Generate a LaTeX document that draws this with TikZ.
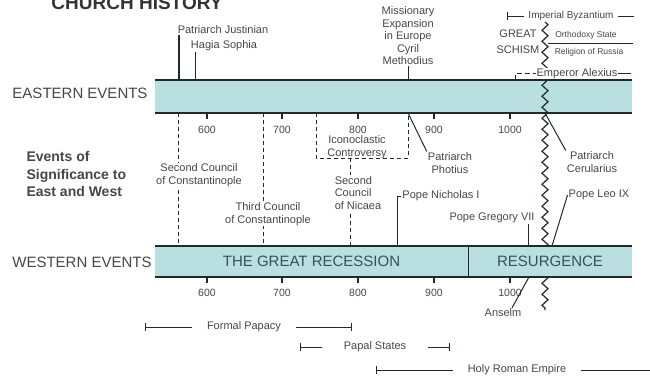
\documentclass[tikz,border=0pt]{standalone}
\usepackage{fontspec}
\setmainfont{Liberation Sans}
\usetikzlibrary{decorations.pathmorphing}
\definecolor{barfill}{RGB}{185,223,224}
\definecolor{bardark}{RGB}{32,42,42}
\definecolor{labelgray}{RGB}{70,70,70}
\definecolor{bartext}{RGB}{52,82,90}
\tikzstyle{barbox} = [rectangle, fill=barfill, inner sep=0pt, minimum height=31pt]
\tikzstyle{barrule} = [line width=2pt, draw=bardark]
\tikzstyle{headtext} = [font=\fontsize{15}{17}\selectfont, text=labelgray, inner sep=1pt]
\tikzstyle{bartitle} = [font=\fontsize{15}{17}\selectfont, text=bartext]
\tikzstyle{eventtext} = [font=\fontsize{11}{12.5}\selectfont, text=labelgray, align=center, inner sep=1pt]
\tikzstyle{smalltext} = [font=\fontsize{8.5}{10}\selectfont, text=labelgray, inner sep=1pt]
\tikzstyle{spantext} = [font=\fontsize{11}{12.5}\selectfont, text=labelgray, inner ysep=1pt, inner xsep=15pt]
\tikzstyle{yeartext} = [font=\fontsize{10.5}{12}\selectfont, text=labelgray, inner sep=1pt]
\tikzstyle{yeartick} = [line width=1.5pt, draw=bardark]
\tikzstyle{eventline} = [line width=1pt, draw=bardark]
\tikzstyle{councilline} = [line width=1pt, draw=bardark, dash pattern=on 4pt off 3pt]
\tikzstyle{spanline} = [line width=0.8pt, draw=bardark]
\tikzstyle{schismline} = [line width=1.2pt, draw=bardark, decorate, decoration={zigzag, segment length=11pt, amplitude=3pt}]

\begin{document}
\begin{tikzpicture}[x=1pt, y=-1pt]
  \useasboundingbox (0,0) rectangle (650,381);
  \node (title) [anchor=base, font=\fontsize{19}{21}\selectfont\bfseries, text=black!80] at (137,9) {CHURCH HISTORY};
  \node (eastlabel) [headtext] at (80,93) {EASTERN EVENTS};
  \node (westlabel) [headtext] at (82,262) {WESTERN EVENTS};
  \node (significance) [anchor=west, font=\fontsize{14}{17.5}\selectfont\bfseries, text=labelgray, align=left] at (23,174) {Events of\\Significance to\\East and West};

  \node (eastbar) [barbox, minimum width=477pt, minimum height=33pt] at (393.5,96.5) {};
  \coordinate (schtop) at (545,22);
  \coordinate (schbot) at (545,310);
  \draw [schismline] (schtop) -- (schbot);
  \node (recession) [barbox, bartitle, minimum width=313pt] at (311.5,261.5) {THE GREAT RECESSION};
  \node (resurgence) [barbox, bartitle, minimum width=164pt] at (550,261.5) {RESURGENCE};
  \draw [barrule] (eastbar.north west) -- (eastbar.north east);
  \draw [barrule] (eastbar.south west) -- (eastbar.south east);
  \draw [barrule] (recession.north west) -- (resurgence.north east);
  \draw [barrule] (recession.south west) -- (resurgence.south east);
  \draw [barrule, line width=1.2pt] (recession.north east) -- (recession.south east);

  \foreach \yr/\xx in {600/207,700/282,800/358,900/434,1000/510} {
    \coordinate (e\yr) at (\xx,113);
    \coordinate (w\yr) at (\xx,277);
    \draw [yeartick] (e\yr) -- ++(0,6);
    \draw [yeartick] (w\yr) -- ++(0,6);
    \node (ey\yr) [yeartext] at (\xx,129.5) {\yr};
    \node (wy\yr) [yeartext] at (\xx,292.5) {\yr};
  }

  \node (justinian) [eventtext] at (223,30) {Patriarch Justinian};
  \node (hagia) [eventtext] at (224,46) {Hagia Sophia};
  \node (missions) [eventtext, anchor=south] at (408,66) {Missionary\\Expansion\\in Europe\\Cyril\\Methodius};
  \coordinate (e527) at (179,80);
  \coordinate (e537) at (195,80);
  \coordinate (e863) at (408,80);
  \draw [eventline, line width=1.5pt] (e527) -- (e527 |- justinian.south);
  \draw [eventline] (e537) -- (e537 |- hagia.south);
  \draw [eventline] (e863) -- (missions.south);

  \node (byzantium) [spantext, inner xsep=4pt, font=\fontsize{10}{12}\selectfont] at (571,16) {Imperial Byzantium};
  \coordinate (byzstart) at (507,16);
  \coordinate (byzend) at (634,16);
  \draw [spanline, |-] (byzstart) -- (byzantium.west);
  \draw [spanline] (byzantium.east) -- (byzend);
  \node (schism) [eventtext, font=\fontsize{11}{16}\selectfont] at (518,42) {GREAT\\SCHISM};
  \node (orthodoxy) [smalltext] at (586,35) {Orthodoxy State};
  \node (russia) [smalltext] at (589,52) {Religion of Russia};
  \coordinate (ruleleft) at (548,43);
  \coordinate (ruleright) at (633,43);
  \draw [spanline] (ruleleft) -- (ruleright);
  \node (alexius) [eventtext, fill=white, inner sep=0.5pt] at (577,73.5) {Emperor Alexius};
  \coordinate (alexstart) at (515,80);
  \coordinate (alexend) at (631,73.5);
  \draw [spanline, dash pattern=on 5pt off 3pt] (alexstart) |- (alexius.west);
  \draw [spanline] (alexius.east) -- (alexend);

  \coordinate (e553) at (178,113);
  \coordinate (w553) at (178,246);
  \draw [councilline] (e553) -- (w553);
  \node (constant2) [eventtext, fill=white] at (199,175) {Second Council\\of Constantinople};
  \coordinate (e680) at (263,113);
  \coordinate (w680) at (263,246);
  \draw [councilline] (e680) -- (w680);
  \node (constant3) [eventtext, fill=white] at (268,214) {Third Council\\of Constantinople};
  \coordinate (e726) at (316,113);
  \coordinate (ic726) at (316,158);
  \coordinate (e843) at (408,113);
  \draw [councilline] (e726) -- (ic726) -| (e843);
  \node (iconoclasm) [eventtext] at (357,147) {Iconoclastic\\Controversy};
  \coordinate (ic787) at (350,158);
  \coordinate (w787) at (350,246);
  \draw [councilline] (ic787) -- (w787);
  \node (nicaea) [eventtext, align=left, fill=white] at (358,193) {Second\\Council\\of Nicaea};
  \node (photius) [eventtext] at (450,163) {Patriarch\\Photius};
  \draw [eventline] (e843) -- (photius.north west);
  \coordinate (e1054) at (545,113);
  \node (cerularius) [eventtext] at (592,162) {Patriarch\\Cerularius};
  \draw [eventline] (e1054) -- (cerularius.north west);

  \coordinate (w858) at (397,246);
  \node (nicholas) [eventtext] at (441,196) {Pope Nicholas I};
  \draw [eventline] (w858) |- (nicholas.west);
  \coordinate (w1073) at (528,246);
  \node (gregory) [eventtext] at (492,218) {Pope Gregory VII};
  \draw [eventline] (w1073) -- (w1073 |- gregory.south);
  \coordinate (w1049) at (552,246);
  \node (leo) [eventtext] at (599,195) {Pope Leo IX};
  \draw [eventline] (w1049) -- (leo.west);
  \coordinate (w1093) at (529,277);
  \node (anselm) [eventtext] at (503,313) {Anselm};
  \draw [eventline] (w1093) -- (anselm.30);

  \node (papacy) [spantext] at (244,327) {Formal Papacy};
  \coordinate (papacyleft) at (145,327);
  \coordinate (papacyright) at (352,327);
  \draw [spanline, |-] (papacyleft) -- (papacy.west);
  \draw [spanline, -|] (papacy.east) -- (papacyright);
  \node (papal) [spantext, inner xsep=22pt] at (375,347) {Papal States};
  \coordinate (papalleft) at (300,347);
  \coordinate (papalright) at (450,347);
  \draw [spanline, |-] (papalleft) -- (papal.west);
  \draw [spanline, -|] (papal.east) -- (papalright);
  \node (holyrome) [spantext] at (517,370) {Holy Roman Empire};
  \coordinate (holyleft) at (376,370);
  \coordinate (holyright) at (652,370);
  \draw [spanline, |-] (holyleft) -- (holyrome.west);
  \draw [spanline] (holyrome.east) -- (holyright);
\end{tikzpicture}
\end{document}
